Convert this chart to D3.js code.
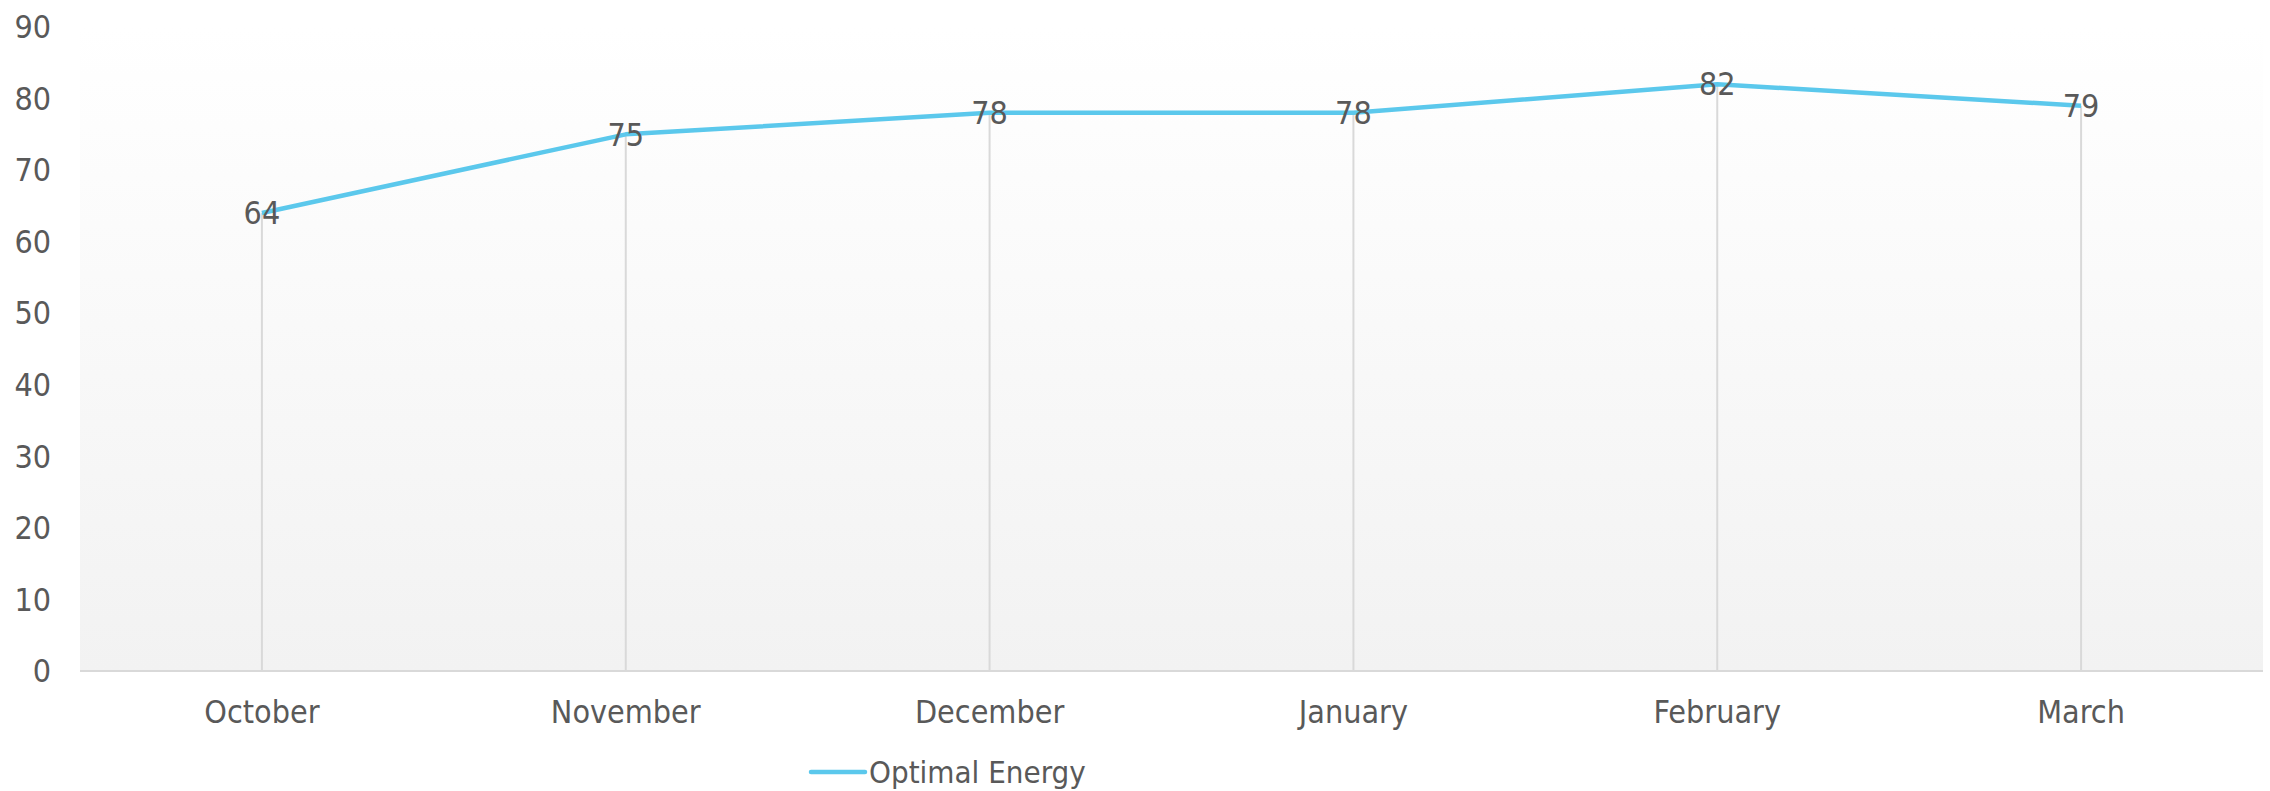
<!DOCTYPE html>
<style type="text/css">
body { margin: 0; background: #fff; }
text { font-family: "DejaVu Sans Condensed", "DejaVu Sans", sans-serif; font-stretch: condensed; fill: #595959; }
</style>
<svg width="2270" height="791"></svg>
<script src="https://d3js.org/d3.v7.min.js"></script>
<script>

var months = ["October", "November", "December", "January", "February", "March"];
var energy = [64, 75, 78, 78, 82, 79];
var yTicks = [0, 10, 20, 30, 40, 50, 60, 70, 80, 90];
var seriesName = "Optimal Energy";

var svg = d3.select("svg"),
		width = +svg.attr("width"),
		height = +svg.attr("height");

var margin = {top: 27, right: 7, bottom: 120, left: 80};

var x = d3.scaleBand()
		.domain(months)
		.range([margin.left, width - margin.right])
		.padding(0);

var y = d3.scaleLinear()
		.domain([0, 90])
		.range([height - margin.bottom, margin.top]);

var grad = svg.append("defs").append("linearGradient")
		.attr("id", "bg")
		.attr("x1", 0).attr("y1", 0).attr("x2", 0).attr("y2", 1);
grad.append("stop").attr("offset", "0%").attr("stop-color", "#ffffff");
grad.append("stop").attr("offset", "100%").attr("stop-color", "#f2f2f2");

svg.append("rect")
		.attr("x", margin.left)
		.attr("y", y(90))
		.attr("width", width - margin.right - margin.left)
		.attr("height", y(0) - y(90))
		.attr("fill", "url(#bg)");

var cx = function(d) { return x(d) + x.bandwidth() / 2; };

// drop lines
svg.append("g")
		.attr("stroke", "#d9d9d9")
		.attr("stroke-width", 2)
	.selectAll("line")
	.data(months)
	.enter().append("line")
		.attr("x1", cx)
		.attr("x2", cx)
		.attr("y1", function(d, i) { return y(energy[i]); })
		.attr("y2", y(0));

// baseline
svg.append("line")
		.attr("x1", margin.left)
		.attr("x2", width - margin.right)
		.attr("y1", y(0))
		.attr("y2", y(0))
		.attr("stroke", "#d9d9d9")
		.attr("stroke-width", 2);

// y axis labels
svg.append("g")
		.attr("font-size", 32)
		.attr("text-anchor", "end")
	.selectAll("text")
	.data(yTicks)
	.enter().append("text")
		.attr("x", 51)
		.attr("y", function(d) { return y(d); })
		.attr("dy", "0.35em")
		.text(function(d) { return d; });

// x axis labels
svg.append("g")
		.attr("font-size", 32)
		.attr("text-anchor", "middle")
	.selectAll("text")
	.data(months)
	.enter().append("text")
		.attr("x", cx)
		.attr("y", y(0) + 41)
		.attr("dy", "0.35em")
		.text(function(d) { return d; });

var line = d3.line()
		.x(function(d, i) { return cx(months[i]); })
		.y(function(d) { return y(d); });

svg.append("path")
		.datum(energy)
		.attr("fill", "none")
		.attr("stroke", "#5bc8ec")
		.attr("stroke-width", 4.5)
		.attr("stroke-linejoin", "round")
		.attr("d", line);

// data labels
svg.append("g")
		.attr("font-size", 32)
		.attr("text-anchor", "middle")
	.selectAll("text")
	.data(energy)
	.enter().append("text")
		.attr("x", function(d, i) { return cx(months[i]); })
		.attr("y", function(d) { return y(d); })
		.attr("dy", "0.35em")
		.text(function(d) { return d; });

// legend
var legend = svg.append("g");
legend.append("line")
		.attr("x1", 811).attr("x2", 865)
		.attr("y1", 772).attr("y2", 772)
		.attr("stroke", "#5bc8ec")
		.attr("stroke-width", 4.5)
		.attr("stroke-linecap", "round");
legend.append("text")
		.attr("x", 869)
		.attr("y", 772)
		.attr("dy", "0.35em")
		.attr("font-size", 31)
		.text(seriesName);

</script>
